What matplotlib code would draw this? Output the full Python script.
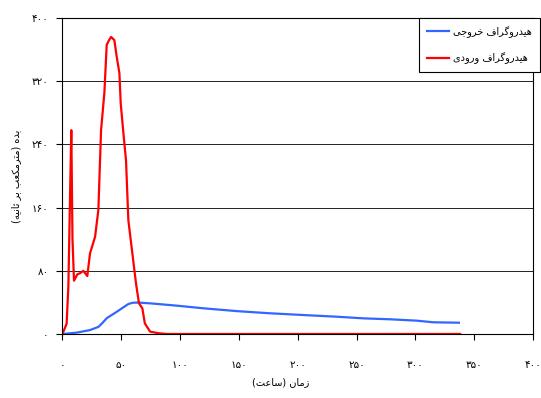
import matplotlib
matplotlib.use("Agg")
import matplotlib.pyplot as plt

# hydrograph readings (hours, m3/s)
inflow_t = [0, 3.5, 5, 6.5, 7.5, 8.5, 9.8, 12.6, 15, 17.7, 21.1, 23.4, 27.7, 30.5, 32.8,
            35.6, 37.6, 39.6, 41.3, 44.1, 46.1, 48.4, 49.5, 51.8, 54, 56, 59.4, 62.5,
            65, 67.9, 70, 74.5, 81.5, 89, 150, 250, 338]
inflow_q = [0, 13, 60, 180, 258, 120, 67.5, 75.5, 77, 80, 73.4, 102, 123, 157, 258,
            305, 366, 372, 376, 372, 351, 330, 292, 254, 220, 144, 102, 64,
            39, 32.5, 13.5, 3, 1, 0, 0, 0, 0]

outflow_t = [0, 12, 23.4, 30.5, 34, 37.6, 46, 56, 60, 64.5, 74.5, 97, 120, 148, 176.6,
             205, 233, 256, 278.7, 301, 315.6, 337]
outflow_q = [0, 1.7, 5, 9, 14, 20, 28, 38, 39.6, 39.8, 38.8, 35.9, 32.5, 29, 26.2,
             24, 21.9, 19.8, 18.6, 16.9, 14.8, 14.3]

fa = "۰۱۲۳۴۵۶۷۸۹"
def fa_num(n):
    return "".join(fa[int(c)] for c in str(n))

x_ticks = list(range(0, 401, 50))
y_ticks = list(range(0, 401, 80))

# Persian labels: matplotlib does no shaping / bidi, so the words are
# written with presentation forms in visual (left to right) order
hydro = "\uFED1\uFE8D\uFEAE\uFB94\uFEED\uFEAD\uFEAA\uFEF4\uFEEB"      # هیدروگراف
label_out = "\uFEF0\uFE9F\uFEED\uFEAE\uFEA7" + " " + hydro            # هیدروگراف خروجی
label_in = "\uFEEF\uFEA9\uFEED\uFEAD\uFEED" + " " + hydro             # هیدروگراف ورودی
x_title = "(" + "\uFE96\uFECB\uFE8E\uFEB3" + ") " + "\uFEE5\uFE8E\uFEE3\uFEAF"   # زمان (ساعت)
y_title = ("(" + "\uFEEA\uFEF4\uFEE7\uFE8E\uFE9B" + " " + "\uFEAE\uFE91" + " "
           + "\uFE90\uFECC\uFB91\uFEE3\uFEAE\uFE98\uFEE3" + ") " + "\uFEE9\uFEAA\uFE91")  # بده (مترمکعب بر ثانیه)

plt.rcParams['font.family'] = ['DejaVu Sans']

fig = plt.figure(figsize=(5.41, 3.98), dpi=100)
ax = fig.add_axes([0.1155, 0.1608, 0.8697, 0.794])

ax.plot(outflow_t, outflow_q, color="#3366FF", lw=1.6, label=label_out)
ax.plot(inflow_t, inflow_q, color="#FF0000", lw=1.6, label=label_in)

ax.set_xlim(0, 400)
ax.set_ylim(0, 400)
ax.set_xticks(x_ticks)
ax.set_xticklabels([fa_num(v) for v in x_ticks], fontsize=7.5)
ax.set_yticks(y_ticks)
ax.set_yticklabels([fa_num(v) for v in y_ticks], fontsize=7.5)
ax.tick_params(axis="x", direction="out", length=4, pad=15)
ax.tick_params(axis="y", direction="out", length=4, pad=6)
ax.yaxis.grid(True, color="black", lw=0.6)
ax.set_axisbelow(True)
for s in ax.spines.values():
    s.set_linewidth(0.8)

ax.set_xlabel(x_title, fontsize=7, va="top")
ax.xaxis.set_label_coords(0.464, -0.136)
ax.set_ylabel(y_title, fontsize=7)
ax.yaxis.set_label_coords(-0.088, 0.5)

leg = ax.legend(loc="upper right", bbox_to_anchor=(540 / 541, 1 - 18 / 398),
                bbox_transform=fig.transFigure, borderaxespad=0, fontsize=7,
                frameon=True, fancybox=False, edgecolor="black", framealpha=1,
                handlelength=2.3, handletextpad=0.4, borderpad=0.8,
                labelspacing=1.5)
leg.get_frame().set_linewidth(0.8)

fig.savefig("out.png", dpi=100)
